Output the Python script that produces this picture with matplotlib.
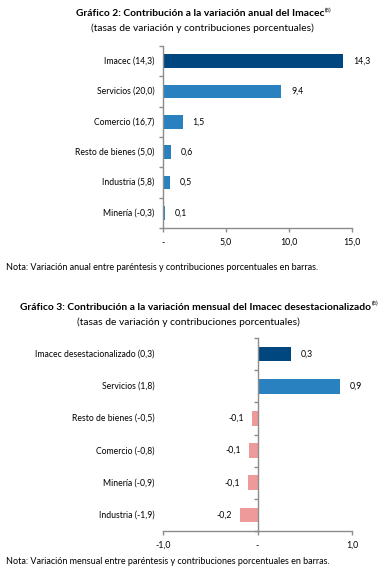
import matplotlib
matplotlib.use("Agg")
import matplotlib.pyplot as plt

plt.rcParams['font.family'] = ['Lato', 'DejaVu Sans']

# ---- data chart 2 (annual) ----
cats1 = ["Imacec (14,3)", "Servicios (20,0)", "Comercio (16,7)",
         "Resto de bienes (5,0)", "Industria (5,8)", "Minería (-0,3)"]
vals1 = [14.3, 9.4, 1.55, 0.6, 0.55, 0.15]
labs1 = ["14,3", "9,4", "1,5", "0,6", "0,5", "0,1"]
xt1 = [0, 5, 10, 15]
xtl1 = ["-", "5,0", "10,0", "15,0"]

# ---- data chart 3 (monthly) ----
cats2 = ["Imacec desestacionalizado (0,3)", "Servicios (1,8)", "Resto de bienes (-0,5)",
         "Comercio (-0,8)", "Minería (-0,9)", "Industria (-1,9)"]
vals2 = [0.35, 0.87, -0.06, -0.09, -0.10, -0.18]
labs2 = ["0,3", "0,9", "-0,1", "-0,1", "-0,1", "-0,2"]
xt2 = [-1, 0, 1]
xtl2 = ["-1,0", "-", "1,0"]

DARK = "#00467f"
BLUE = "#2a81bf"
PINK = "#ee9a9a"
GRAY = "#8c8c8c"
W, H = 389, 572

fig = plt.figure(figsize=(W / 100, H / 100), dpi=100)


def fx(px):
    return px / W


def fy(py):
    return 1 - py / H


def make_axes(top, bottom):
    return fig.add_axes([fx(163), fy(bottom), fx(352) - fx(163), fy(top) - fy(bottom)])


def style(ax, n, xlim, xt, xtl):
    ax.set_xlim(*xlim)
    ax.set_ylim(n - 0.5, -0.5)
    for s in ["top", "right"]:
        ax.spines[s].set_visible(False)
    for s in ["left", "bottom"]:
        ax.spines[s].set_color(GRAY)
        ax.spines[s].set_linewidth(1.0)
    ax.set_yticks([i - 0.5 for i in range(n + 1)])
    ax.set_yticklabels([])
    ax.tick_params(axis='y', length=3, color=GRAY, width=1.0)
    ax.set_xticks(xt)
    ax.set_xticklabels(xtl, fontsize=6.3)
    ax.tick_params(axis='x', length=3, color=GRAY, width=1.0, pad=4)


# ---- chart 1 ----
ax1 = make_axes(46, 228)
cols1 = [DARK] + [BLUE] * (len(vals1) - 1)
ax1.barh(range(len(vals1)), vals1, height=0.46, color=cols1)
style(ax1, len(vals1), (0, 15), xt1, xtl1)
for i, (c, v, l) in enumerate(zip(cats1, vals1, labs1)):
    ax1.text(-0.045, i, c, transform=ax1.get_yaxis_transform(), ha='right', va='center', fontsize=6.2)
    ax1.annotate(l, (v, i), xytext=(7, 0), textcoords='offset points', ha='left', va='center', fontsize=6.3)

t1 = fig.text(fx(200), fy(14), "Gráfico 2: Contribución a la variación anual del Imacec",
              ha='center', va='center', fontsize=7.4, fontweight='bold')
fig.text(fx(202), fy(28), "(tasas de variación y contribuciones porcentuales)",
         ha='center', va='center', fontsize=7.4)
fig.text(fx(6), fy(268), "Nota: Variación anual entre paréntesis y contribuciones porcentuales en barras.",
         ha='left', va='center', fontsize=6.5)

# ---- chart 2 ----
ax2 = make_axes(338, 531)
cols2 = [DARK, BLUE] + [PINK] * (len(vals2) - 2)
ax2.barh(range(len(vals2)), vals2, height=0.46, color=cols2)
style(ax2, len(vals2), (-1, 1), xt2, xtl2)
ax2.spines['left'].set_position(('data', 0))
for i, (c, v, l) in enumerate(zip(cats2, vals2, labs2)):
    ax2.text(-0.045, i, c, transform=ax2.get_yaxis_transform(), ha='right', va='center', fontsize=6.2)
    if v >= 0:
        ax2.annotate(l, (v, i), xytext=(7, 0), textcoords='offset points', ha='left', va='center', fontsize=6.3)
    else:
        ax2.annotate(l, (v, i), xytext=(-6, 0), textcoords='offset points', ha='right', va='center', fontsize=6.3)

t2 = fig.text(fx(196), fy(307), "Gráfico 3: Contribución a la variación mensual del Imacec desestacionalizado",
              ha='center', va='center', fontsize=7.4, fontweight='bold')
fig.text(fx(188), fy(322), "(tasas de variación y contribuciones porcentuales)",
         ha='center', va='center', fontsize=7.4)
fig.text(fx(6), fy(561), "Nota: Variación mensual entre paréntesis y contribuciones porcentuales en barras.",
         ha='left', va='center', fontsize=6.5)

for t in (t1, t2):
    fig.add_artist(plt.Annotation("(8)", xy=(1.0, 0.62), xycoords=t, xytext=(0.5, 0),
                                  textcoords='offset points', ha='left', va='bottom',
                                  fontsize=4.2, annotation_clip=False))

fig.savefig("out.png", dpi=100)
